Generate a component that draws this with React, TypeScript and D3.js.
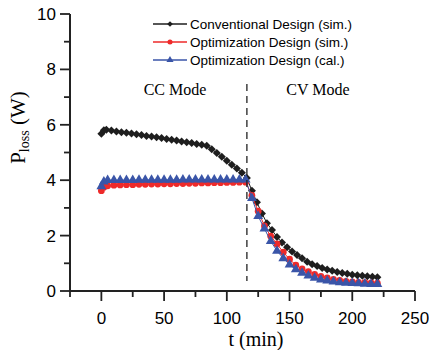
import * as d3 from 'd3';

const convT = [0, 2, 4, 8, 12, 16, 20, 24, 28, 32, 36, 40, 44, 48, 52, 56, 60, 64, 68, 72, 76, 80, 84, 88, 92, 96, 100, 104, 108, 112, 116, 120, 124, 128, 132, 136, 140, 144, 148, 152, 156, 160, 164, 168, 172, 176, 180, 184, 188, 192, 196, 200, 204, 208, 212, 216, 220];
const convP = [5.68, 5.8, 5.82, 5.79, 5.76, 5.73, 5.71, 5.69, 5.66, 5.63, 5.6, 5.58, 5.55, 5.52, 5.49, 5.46, 5.43, 5.4, 5.37, 5.34, 5.31, 5.28, 5.24, 5.12, 4.98, 4.85, 4.7, 4.56, 4.42, 4.27, 4.08, 3.62, 3.2, 2.8, 2.45, 2.2, 1.95, 1.75, 1.58, 1.43, 1.3, 1.18, 1.06, 0.97, 0.9, 0.83, 0.78, 0.73, 0.69, 0.65, 0.62, 0.59, 0.57, 0.55, 0.53, 0.51, 0.5];

const optT = [0, 2, 5, 10, 15, 20, 25, 30, 35, 40, 45, 50, 55, 60, 65, 70, 75, 80, 85, 90, 95, 100, 105, 110, 115, 120, 125, 130, 135, 140, 145, 150, 155, 160, 165, 170, 175, 180, 185, 190, 195, 200, 205, 210, 215, 220];
const optSimP = [3.62, 3.75, 3.8, 3.82, 3.83, 3.84, 3.84, 3.85, 3.85, 3.86, 3.86, 3.87, 3.87, 3.88, 3.88, 3.89, 3.89, 3.9, 3.9, 3.91, 3.91, 3.92, 3.92, 3.93, 3.93, 3.45, 2.88, 2.35, 1.98, 1.7, 1.4, 1.15, 0.93, 0.8, 0.7, 0.6, 0.53, 0.47, 0.42, 0.38, 0.35, 0.33, 0.31, 0.3, 0.29, 0.28];
const optCalP = [3.78, 3.95, 4.0, 4.0, 4.0, 4.0, 4.0, 4.01, 4.01, 4.01, 4.01, 4.01, 4.01, 4.01, 4.02, 4.02, 4.02, 4.02, 4.02, 4.02, 4.02, 4.02, 4.02, 4.02, 4.02, 3.35, 2.7, 2.25, 1.8, 1.45, 1.18, 0.95, 0.78, 0.65, 0.55, 0.47, 0.41, 0.37, 0.34, 0.31, 0.29, 0.28, 0.27, 0.26, 0.25, 0.25];

const legendLabels = ['Conventional Design (sim.)', 'Optimization Design (sim.)', 'Optimization Design (cal.)'];
const colors = ['#1e1e1e', '#ee2a2a', '#3a55a8'];
const xTicks = [0, 50, 100, 150, 200, 250];
const xMinor = [-25, 25, 75, 125, 175, 225];
const yTicks = [0, 2, 4, 6, 8, 10];
const yMinor = [1, 3, 5, 7, 9];
const modeSwitch = 116;

const x = d3.scaleLinear().domain([-25, 250]).range([70, 415]);
const y = d3.scaleLinear().domain([0, 10]).range([291, 14]);

const sans = 'Liberation Sans, Arial, sans-serif';
const serif = 'Liberation Serif, Times New Roman, serif';

// diamond = square turned 45deg
const diamond = d3.symbol().type(d3.symbolSquare).size(32)() as string;
const circle = d3.symbol().type(d3.symbolCircle).size(36)() as string;
const triangle = d3.symbol().type(d3.symbolTriangle).size(42)() as string;
const shapes = [diamond, circle, triangle];
const rot = ['rotate(45)', '', ''];
const legendShapes = [
  d3.symbol().type(d3.symbolSquare).size(16)() as string,
  d3.symbol().type(d3.symbolCircle).size(20)() as string,
  d3.symbol().type(d3.symbolTriangle).size(22)() as string,
];

function Series({ t, p, i }: { t: number[]; p: number[]; i: number }) {
  const line = d3.line<number>().x((_, k) => x(t[k])).y(d => y(d));
  return (
    <g>
      <path d={line(p) || ''} fill="none" stroke={colors[i]} strokeWidth={1} />
      {p.map((v, k) => (
        <path key={k} d={shapes[i]} transform={`translate(${x(t[k])},${y(v)}) ${rot[i]}`} fill={colors[i]} />
      ))}
    </g>
  );
}

export default function App() {
  const x0 = x.range()[0];
  const y0 = y.range()[0];
  return (
    <svg width={429} height={350} style={{ position: 'absolute', left: 0, top: 0, background: '#fff' }}>
      {/* data */}
      <Series t={convT} p={convP} i={0} />
      <Series t={optT} p={optSimP} i={1} />
      <Series t={optT} p={optCalP} i={2} />

      {/* CC / CV divider */}
      <line x1={x(modeSwitch)} x2={x(modeSwitch)} y1={84} y2={281} stroke="#222" strokeWidth={1.3} strokeDasharray="7,5" />
      <text x={175} y={95} textAnchor="middle" fontFamily={serif} fontSize={16}>CC Mode</text>
      <text x={318} y={95} textAnchor="middle" fontFamily={serif} fontSize={16}>CV Mode</text>

      {/* axes */}
      <line x1={x0} x2={x0} y1={y(10)} y2={y0} stroke="#222" strokeWidth={2} />
      <line x1={x0} x2={x(250)} y1={y0} y2={y0} stroke="#222" strokeWidth={2} />
      {yTicks.map(v => (
        <g key={v}>
          <line x1={x0 - 10} x2={x0} y1={y(v)} y2={y(v)} stroke="#222" strokeWidth={1.8} />
          <text x={x0 - 14} y={y(v) + 6} textAnchor="end" fontFamily={sans} fontSize={17}>{v}</text>
        </g>
      ))}
      {yMinor.map(v => (
        <line key={v} x1={x0 - 6} x2={x0} y1={y(v)} y2={y(v)} stroke="#222" strokeWidth={1.8} />
      ))}
      {xTicks.map(v => (
        <g key={v}>
          <line x1={x(v)} x2={x(v)} y1={y0} y2={y0 + 10} stroke="#222" strokeWidth={1.8} />
          <text x={x(v)} y={y0 + 33} textAnchor="middle" fontFamily={sans} fontSize={17}>{v}</text>
        </g>
      ))}
      {xMinor.map(v => (
        <line key={v} x1={x(v)} x2={x(v)} y1={y0} y2={y0 + 6} stroke="#222" strokeWidth={1.8} />
      ))}

      {/* axis titles */}
      <text x={256} y={346} textAnchor="middle" fontFamily={serif} fontSize={20}>t (min)</text>
      <text transform={`translate(25,${y(5.9)}) rotate(-90)`} textAnchor="middle" fontFamily={serif} fontSize={21}>
        P<tspan fontSize={14} dy={4}>loss</tspan><tspan dy={-4}> (W)</tspan>
      </text>

      {/* legend */}
      {legendLabels.map((label, i) => (
        <g key={label} transform={`translate(153,${24 + i * 18})`}>
          <line x1={0} x2={34} y1={0} y2={0} stroke={colors[i]} strokeWidth={1.5} />
          <path d={legendShapes[i]} transform={`translate(17,0) ${rot[i]}`} fill={colors[i]} />
          <text x={37} y={4.8} fontFamily={sans} fontSize={13.5}>{label}</text>
        </g>
      ))}
    </svg>
  );
}
